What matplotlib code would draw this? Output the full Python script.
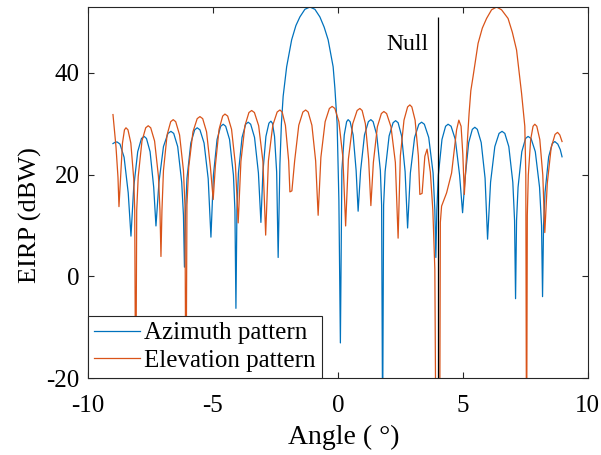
import matplotlib
matplotlib.use("Agg")
import matplotlib.pyplot as plt

plt.rcParams['font.family'] = ['Liberation Serif', 'DejaVu Serif']
plt.rcParams['axes.unicode_minus'] = False

# Azimuth pattern (angle in deg, EIRP in dBW)
az_angle = [
    -9.00, -8.90, -8.83, -8.72, -8.555, -8.39, -8.28,
    -8.17, -8.01, -7.86, -7.75, -7.66, -7.515, -7.37, -7.28,
    -7.16, -6.98, -6.80, -6.68, -6.57, -6.41, -6.25, -6.18, -6.14, -6.10,
    -6.04, -5.885, -5.73, -5.63, -5.52, -5.355, -5.19, -5.08,
    -4.98, -4.835, -4.69, -4.59, -4.49, -4.335, -4.18, -4.12, -4.08, -4.04,
    -3.98, -3.835, -3.69, -3.59, -3.49, -3.335, -3.18, -3.08,
    -3.00, -2.88, -2.76, -2.68, -2.62, -2.535, -2.45, -2.39,
    -2.32, -2.26, -2.19, -2.05, -1.85, -1.68, -1.52, -1.32, -1.12, -0.92,
    -0.72, -0.55, -0.39, -0.19, -0.12, -0.03, 0.04, 0.10,
    0.16, 0.255, 0.35, 0.41, 0.49, 0.61, 0.73, 0.81,
    0.91, 1.065, 1.22, 1.32, 1.41, 1.555, 1.70, 1.75, 1.79, 1.83,
    1.89, 2.05, 2.21, 2.31, 2.41, 2.55, 2.69, 2.79,
    2.90, 3.07, 3.24, 3.35, 3.46, 3.635, 3.81, 3.88, 3.92, 3.96,
    4.02, 4.165, 4.31, 4.41, 4.53, 4.70, 4.87, 4.99,
    5.09, 5.235, 5.38, 5.48, 5.58, 5.735, 5.89, 5.99,
    6.11, 6.28, 6.45, 6.57, 6.68, 6.84, 7.00, 7.07, 7.11, 7.15,
    7.21, 7.36, 7.51, 7.61, 7.73, 7.90, 8.07, 8.15, 8.19, 8.23,
    8.29, 8.435, 8.58, 8.68, 8.80, 8.90, 8.97,
]
az_eirp = [
    26.1, 26.4, 26.4, 26.0, 23.4, 16.4, 7.9,
    17.5, 24.5, 27.1, 27.5, 27.1, 24.5, 17.5, 9.9,
    18.5, 25.5, 28.1, 28.5, 28.1, 25.5, 18.5, 12.0, 1.8, 12.0,
    19.2, 26.2, 28.8, 29.2, 28.8, 26.2, 19.2, 7.7,
    19.9, 26.9, 29.5, 29.9, 29.5, 26.9, 19.9, 13.0, -6.3, 13.0,
    20.3, 27.3, 29.9, 30.3, 29.9, 27.3, 20.3, 10.6,
    20.5, 27.5, 30.1, 30.5, 30.1, 27.5, 20.5, 3.7,
    22.0, 30.0, 35.4, 41.2, 46.5, 49.3, 51.0, 52.5, 52.95, 52.5,
    51.0, 49.0, 46.5, 41.2, 37.0, 30.0, 15.0, -13.1,
    20.8, 27.8, 30.4, 30.8, 30.4, 27.8, 20.8, 12.8,
    20.8, 27.8, 30.4, 30.8, 30.4, 27.8, 20.8, 14.0, -30.0, 14.0,
    20.6, 27.6, 30.2, 30.6, 30.2, 27.6, 20.6, 9.5,
    20.3, 27.3, 29.9, 30.3, 29.9, 27.3, 20.3, 13.0, 3.7, 13.0,
    19.9, 26.9, 29.5, 29.9, 29.5, 26.9, 19.9, 12.5,
    19.3, 26.3, 28.9, 29.3, 28.9, 26.3, 19.3, 7.3,
    18.5, 25.5, 28.1, 28.5, 28.1, 25.5, 18.5, 11.0, -4.4, 11.0,
    17.5, 24.5, 27.1, 27.5, 27.1, 24.5, 17.5, 10.0, -4.0, 10.0,
    16.5, 23.5, 26.1, 26.5, 26.0, 24.9, 23.5,
]

# Elevation pattern
el_angle = [
    -9.00, -8.88, -8.80, -8.76,
    -8.70, -8.62, -8.54, -8.48, -8.40, -8.285, -8.17, -8.13, -8.09, -8.05,
    -7.99, -7.84, -7.69, -7.59, -7.49, -7.335, -7.18, -7.12, -7.08, -7.04,
    -6.98, -6.835, -6.69, -6.59, -6.49, -6.335, -6.18, -6.12, -6.08, -6.04,
    -5.97, -5.80, -5.63, -5.52, -5.41, -5.255, -5.10, -4.99,
    -4.90, -4.755, -4.61, -4.52, -4.41, -4.255, -4.10, -3.99,
    -3.88, -3.72, -3.56, -3.45, -3.34, -3.17, -3.00, -2.89,
    -2.78, -2.605, -2.43, -2.32, -2.23, -2.10, -1.97, -1.92, -1.84,
    -1.73, -1.565, -1.40, -1.29, -1.19, -1.04, -0.89, -0.79,
    -0.68, -0.51, -0.34, -0.23, -0.12, 0.04, 0.20, 0.31,
    0.42, 0.595, 0.77, 0.88, 0.97, 1.10, 1.23, 1.32,
    1.42, 1.58, 1.74, 1.84, 1.95, 2.125, 2.30, 2.41,
    2.50, 2.645, 2.79, 2.88, 2.96, 3.09, 3.22, 3.28, 3.37,
    3.48, 3.57, 3.70, 3.80, 3.88, 3.93, 4.07, 4.10,
    4.15, 4.35, 4.55, 4.75, 4.84, 4.93, 5.00, 5.06,
    5.15, 5.25, 5.32, 5.41, 5.61, 5.78, 5.95, 6.15, 6.35, 6.55,
    6.81, 6.98, 7.15, 7.35, 7.48, 7.52, 7.55,
    7.58, 7.62, 7.715, 7.81, 7.88, 7.96, 8.08, 8.20, 8.28,
    8.38, 8.535, 8.69, 8.79, 8.88, 8.97,
]
el_eirp = [
    31.8, 25.5, 19.5, 13.7,
    19.2, 26.2, 28.8, 29.2, 28.8, 26.2, 19.2, 13.0, -30.0, 13.0,
    19.6, 26.6, 29.2, 29.6, 29.2, 26.6, 19.6, 13.0, 3.9, 13.0,
    20.8, 27.8, 30.4, 30.8, 30.4, 27.8, 20.8, 14.0, -30.0, 14.0,
    21.4, 28.4, 31.0, 31.4, 31.0, 28.4, 21.4, 15.1,
    21.9, 28.9, 31.5, 31.9, 31.5, 28.9, 21.9, 10.5,
    22.6, 29.6, 32.2, 32.6, 32.2, 29.6, 22.6, 8.1,
    22.7, 29.7, 32.3, 32.7, 32.3, 29.7, 22.7, 16.6, 16.8,
    22.7, 29.7, 32.3, 32.7, 32.3, 29.7, 22.7, 12.0,
    23.4, 30.4, 33.0, 33.4, 33.0, 30.4, 23.4, 9.9,
    23.0, 30.0, 32.6, 33.0, 32.6, 30.0, 23.0, 13.9,
    22.4, 29.4, 32.0, 32.4, 32.0, 29.4, 22.4, 7.5,
    23.7, 30.7, 33.3, 33.7, 33.3, 30.7, 23.7, 16.1, 16.3,
    23.6, 25.0, 20.5, 13.0, 1.4, -40.0, -40.0, 10.6,
    13.8, 16.4, 20.3, 28.8, 30.7, 29.5, 24.0, 16.1,
    24.0, 32.0, 36.5, 39.3, 45.8, 48.8, 50.7, 52.4, 52.95, 52.4,
    50.7, 48.0, 44.5, 36.0, 29.5, 20.0, -40.0,
    12.0, 19.9, 26.9, 29.5, 29.9, 29.5, 26.9, 19.9, 8.6,
    18.3, 25.3, 27.9, 28.3, 27.8, 26.5,
]

null_angle = 4.0
null_top = 51.0
x_ticks = [-10, -5, 0, 5, 10]
y_ticks = [-20, 0, 20, 40]

fig = plt.figure(figsize=(6.01, 4.55), dpi=100)
ax = fig.add_axes([0.1464, 0.1692, 0.8316, 0.8154])

ax.plot(az_angle, az_eirp, color='#0072BD', lw=0.9, label='Azimuth pattern')
ax.plot(el_angle, el_eirp, color='#D95319', lw=0.9, label='Elevation pattern')
ax.vlines(null_angle, -20, null_top, color='black', lw=0.9)
ax.text(null_angle - 0.38, 44.4, 'Null', fontsize=17, ha='right', va='baseline')

ax.set_xlim(-10, 10)
ax.set_ylim(-20, 52.95)
ax.set_xticks(x_ticks)
ax.set_yticks(y_ticks)
ax.tick_params(direction='in', top=True, right=True, length=4, width=0.8,
               labelsize=18, colors='#262626', labelcolor='black')
ax.tick_params(axis='x', pad=12)
ax.tick_params(axis='y', pad=6)
for s in ax.spines.values():
    s.set_color('#262626')
    s.set_linewidth(0.8)

ax.set_xlabel('Angle ( °)', fontsize=20)
ax.set_ylabel('EIRP (dBW)', fontsize=19)
ax.xaxis.set_label_coords(0.512, -0.159)
ax.yaxis.set_label_coords(-0.116, 0.44)
ax.xaxis.label.set_va('center')
ax.yaxis.label.set_va('center')

leg = ax.legend(loc='lower left', fontsize=18, borderaxespad=0, frameon=True,
                fancybox=False, framealpha=1, edgecolor='#262626',
                handlelength=1.85, handletextpad=0.15, labelspacing=0.2,
                borderpad=0.25)
leg.get_frame().set_linewidth(0.8)

fig.savefig('out.png', dpi=100)
